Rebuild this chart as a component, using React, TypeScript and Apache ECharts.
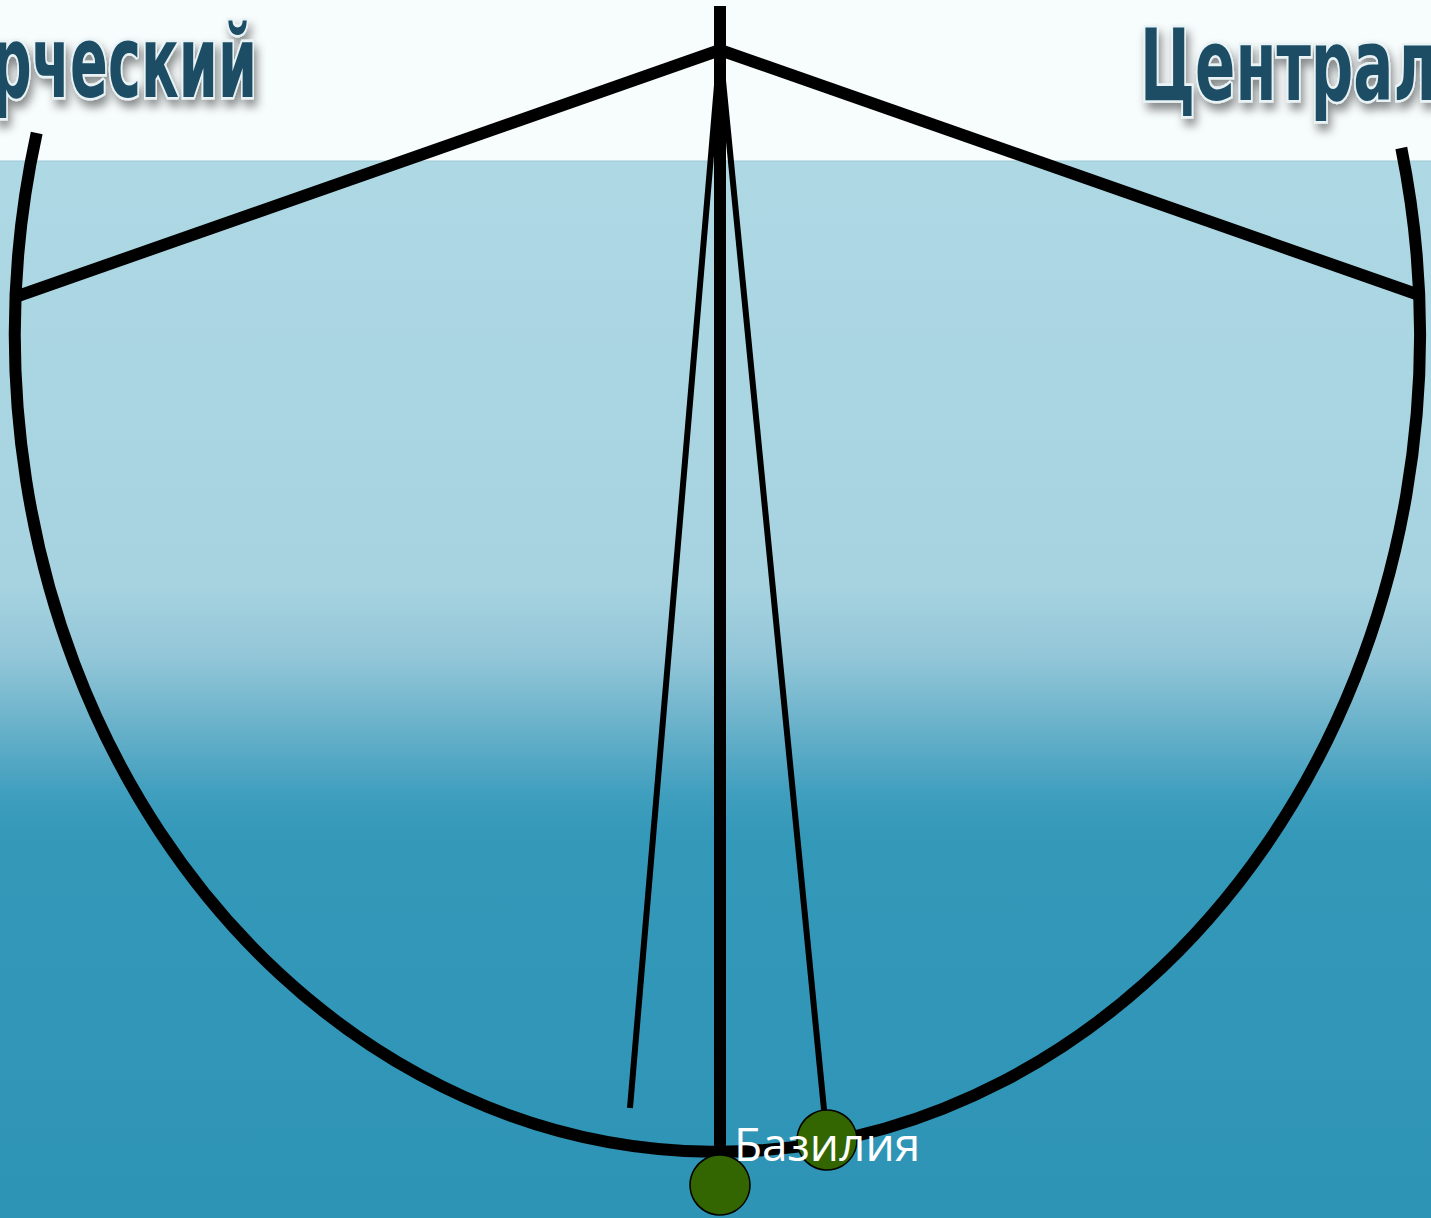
import React, { useEffect, useRef } from "react";
import * as echarts from "echarts";

const W = 1431;
const H = 1218;

// graph nodes (pixel-space values on hidden axes)
const nodeNames = ["top", "hub", "left", "right", "bottom", "Базилия", "stub"];
const nodeX = [720, 720, 18, 1422, 720, 827, 630];
const nodeY = [6, 50, 296, 296, 1185, 1140, 1108];
const nodeSizes = [0, 0, 0, 0, 60, 60, 0];
const nodeColors = ["#000", "#000", "#000", "#000", "#336600", "#336600", "#000"];
const nodeLabels = [false, false, false, false, false, true, false];

const linkSource = [0, 1, 1, 1, 1, 1];
const linkTarget = [1, 2, 3, 4, 6, 5];
const linkWidth = [12, 12, 12, 12, 6, 6];

const headerLeft = "рческий";
const headerRight = "Централ";

// elliptical arc (outer curved edge)
const arcPath = "M 36.7 133 A 702.5 817 0 1 0 1401.3 148";

let registered = false;

export default function App() {
  const ref = useRef<HTMLDivElement>(null);
  useEffect(() => {
    document.body.style.margin = "0";
    if (!registered) {
      echarts.graphic.registerShape("ellArc", echarts.graphic.extendPath(arcPath, {}));
      registered = true;
    }
    const chart = echarts.init(ref.current!, null, { renderer: "svg" });
    const data = nodeNames.map((n, i) => ({
      name: n,
      value: [nodeX[i], nodeY[i]],
      symbolSize: nodeSizes[i],
      itemStyle: {
        color: nodeColors[i],
        borderColor: "#000",
        borderWidth: nodeSizes[i] > 0 ? 1.5 : 0,
      },
      label: {
        show: nodeLabels[i],
        position: "inside",
        color: "#fff",
        fontSize: 46,
        fontFamily: "Open Sans",
        offset: [0, 3],
      },
    }));
    const links = linkSource.map((s, i) => ({
      source: s,
      target: linkTarget[i],
      lineStyle: { width: linkWidth[i], color: "#000", opacity: 1, curveness: 0 },
    }));
    const headerStyle = {
      fontSize: 100,
      fontWeight: "bold",
      fontFamily: "DejaVu Sans Condensed",
      fill: "#1b4e65",
      stroke: "#e9f3f5",
      lineWidth: 5,
      textShadowColor: "rgba(0,0,0,0.45)",
      textShadowBlur: 10,
      textShadowOffsetX: 3,
      textShadowOffsetY: 7,
    };
    chart.setOption({
      animation: false,
      grid: { left: 0, right: 0, top: 0, bottom: 0 },
      xAxis: { type: "value", min: 0, max: W, show: false },
      yAxis: { type: "value", min: 0, max: H, inverse: true, show: false },
      graphic: [
        {
          type: "rect",
          z: -10,
          shape: { x: 0, y: 0, width: W, height: 161 },
          style: { fill: "#f7fcfd" },
        },
        {
          type: "rect",
          z: -10,
          shape: { x: 0, y: 161, width: W, height: H - 161 },
          style: {
            fill: new echarts.graphic.LinearGradient(0, 0, 0, 1, [
              { offset: 0, color: "#add8e4" },
              { offset: 0.4, color: "#a7d3e0" },
              { offset: 0.47, color: "#92c6d8" },
              { offset: 0.53, color: "#6cb3cb" },
              { offset: 0.6, color: "#3f9ebe" },
              { offset: 0.64, color: "#3498b9" },
              { offset: 1, color: "#2e94b5" },
            ]),
          },
        },
        {
          type: "line",
          z: -9,
          shape: { x1: 0, y1: 161, x2: W, y2: 161 },
          style: { stroke: "#9dc9d6", lineWidth: 1 },
        },
        {
          type: "text",
          z: 50,
          x: 257,
          y: 13,
          scaleX: 0.62,
          style: { ...headerStyle, text: headerLeft, textAlign: "right" },
        },
        {
          type: "text",
          z: 50,
          x: 1140,
          y: 15,
          scaleX: 0.66,
          style: { ...headerStyle, text: headerRight, textAlign: "left" },
        },
        {
          type: "ellArc",
          z: 1,
          x: 0,
          y: 0,
          style: { fill: null, stroke: "#000", lineWidth: 12 },
        },
      ],
      series: [
        {
          type: "graph",
          coordinateSystem: "cartesian2d",
          layout: "none",
          z: 5,
          symbol: "circle",
          data,
          links,
          edgeSymbol: ["none", "none"],
          emphasis: { disabled: true },
        },
      ],
    });
    return () => chart.dispose();
  }, []);
  return <div ref={ref} style={{ width: W, height: H }} />;
}
